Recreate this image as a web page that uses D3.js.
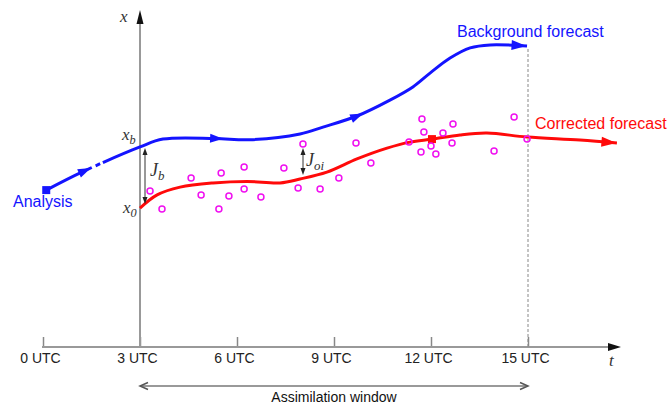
<!DOCTYPE html>
<html>
<head>
<meta charset="utf-8">
<script src="https://cdn.jsdelivr.net/npm/d3@7"></script>
<style>
  body { margin: 0; background: #fff; }
  svg { display: block; }
</style>
</head>
<body>
<div id="chart"></div>
<script>
// tick hours and labels
const tickHours = [0, 3, 6, 9, 12, 15];
const tickLabels = ['0 UTC', '3 UTC', '6 UTC', '9 UTC', '12 UTC', '15 UTC'];

// background forecast (hours, state value)
const blueT = [0.1, 1.2, 3.0, 3.71, 5.32, 6.4, 7.95, 8.66, 9.71, 10.73, 11.44, 11.97, 12.59, 13.21, 13.83, 14.97];
const blueV = [5.23, 5.83, 6.67, 6.93, 6.95, 6.91, 7.1, 7.33, 7.7, 8.23, 8.67, 9.13, 9.63, 9.97, 10.07, 10.03];
const blueArrowT = [1.48, 5.57, 9.9];

// corrected forecast
const redT = [3.0, 3.53, 4.24, 5.26, 6.31, 7.33, 7.95, 8.78, 9.71, 10.64, 11.35, 12.03, 12.9, 13.73, 14.97, 16.61, 17.75];
const redV = [4.63, 5.07, 5.33, 5.47, 5.52, 5.47, 5.6, 5.83, 6.27, 6.63, 6.83, 6.93, 7.07, 7.13, 7.0, 6.9, 6.8];
const redMark = { t: 12.03, v: 6.93 };

// observations
const obsT = [3.31, 3.68, 4.58, 4.89, 5.44, 5.51, 5.75, 6.22, 6.22, 6.74, 7.45, 7.89, 8.04, 8.57, 9.15, 9.68, 10.14,
  11.32, 11.69, 11.72, 11.78, 12.0, 12.15, 12.37, 12.68, 12.65, 13.95, 14.57, 14.97];
const obsV = [5.2, 4.6, 5.63, 5.07, 4.6, 5.8, 5.03, 6.0, 5.27, 5.0, 5.97, 5.3, 6.77, 5.27, 5.63, 6.8, 6.13,
  6.83, 6.5, 7.6, 7.17, 6.7, 6.43, 7.13, 7.43, 6.8, 6.53, 7.67, 6.93];

const width = 667;
const height = 405;

const svg = d3.select('#chart')
  .append('svg')
  .attr('width', width)
  .attr('height', height);

const x = d3.scaleLinear().domain([0, 15]).range([43, 528]);
const y = d3.scaleLinear().domain([0, 10]).range([347, 47]);

const sans = 'Liberation Sans, Arial, sans-serif';
const serif = 'Liberation Serif, Times New Roman, serif';
const blue = '#1414ff';
const red = '#ff0a0a';
const magenta = '#f010f0';

const tri = (len, wid) => `M0,0L${-len},${-wid / 2}L${-len},${wid / 2}Z`;
const vee = (len, wid) => `M${-len},${-wid / 2}L0,0L${-len},${wid / 2}`;

// X axis
const xAxis = d3.axisBottom(x).tickValues(tickHours).tickSize(-10).tickPadding(6)
  .tickFormat((d, i) => tickLabels[i]);
const axisG = svg.append('g').attr('transform', `translate(0, ${y(0)})`).call(xAxis);
axisG.select('.domain').remove();
axisG.selectAll('.tick line').attr('stroke', '#888').attr('stroke-width', 1.5);
axisG.selectAll('.tick text')
  .attr('font-family', sans).attr('font-size', 14).attr('fill', '#222').attr('dx', -3);

svg.append('line')
  .attr('x1', x(0) - 1).attr('x2', 612).attr('y1', y(0)).attr('y2', y(0))
  .attr('stroke', '#999').attr('stroke-width', 2);
svg.append('path').attr('d', tri(13, 8)).attr('transform', `translate(621, ${y(0)})`).attr('fill', '#111');

// Y axis
svg.append('line')
  .attr('x1', x(3)).attr('x2', x(3)).attr('y1', y(0)).attr('y2', 22)
  .attr('stroke', '#999').attr('stroke-width', 2);
svg.append('path').attr('d', tri(14, 7)).attr('transform', `translate(${x(3)}, 10) rotate(-90)`).attr('fill', '#111');

// end of window
svg.append('line')
  .attr('x1', x(15)).attr('x2', x(15)).attr('y1', y(0)).attr('y2', y(10))
  .attr('stroke', '#888').attr('stroke-width', 1).attr('stroke-dasharray', '3,2');

// Assimilation window arrow
const winY = 386;
svg.append('line')
  .attr('x1', x(3) + 1).attr('x2', x(15) - 1).attr('y1', winY).attr('y2', winY)
  .attr('stroke', '#777').attr('stroke-width', 1.5);
svg.append('path').attr('d', vee(8, 7)).attr('transform', `translate(${x(15)}, ${winY})`)
  .attr('fill', 'none').attr('stroke', '#555').attr('stroke-width', 1.5);
svg.append('path').attr('d', vee(8, 7)).attr('transform', `translate(${x(3)}, ${winY}) rotate(180)`)
  .attr('fill', 'none').attr('stroke', '#555').attr('stroke-width', 1.5);
svg.append('text')
  .attr('x', (x(3) + x(15)) / 2).attr('y', 402)
  .attr('text-anchor', 'middle').attr('font-family', sans).attr('font-size', 14).attr('fill', '#111')
  .text('Assimilation window');

// lines
const line = d3.line().x((d) => x(d[0])).y((d) => y(d[1])).curve(d3.curveCatmullRom.alpha(0.5));

function pointAtX(node, px) {
  let lo = 0;
  let hi = node.getTotalLength();
  for (let i = 0; i < 40; i += 1) {
    const mid = (lo + hi) / 2;
    if (node.getPointAtLength(mid).x < px) lo = mid; else hi = mid;
  }
  return lo;
}

function arrowAt(path, px, color, len, wid) {
  const node = path.node();
  const l = pointAtX(node, px);
  const p = node.getPointAtLength(l);
  const q = node.getPointAtLength(Math.max(0, l - 2));
  const ang = (Math.atan2(p.y - q.y, p.x - q.x) * 180) / Math.PI;
  svg.append('path').attr('d', tri(len, wid))
    .attr('transform', `translate(${p.x}, ${p.y}) rotate(${ang})`)
    .attr('fill', color);
}

const bluePath = svg.append('path')
  .datum(blueT.map((t, i) => [t, blueV[i]]))
  .attr('d', line)
  .attr('fill', 'none').attr('stroke', blue).attr('stroke-width', 3);
const bl = pointAtX(bluePath.node(), 92);
bluePath.attr('stroke-dasharray', `${bl} 4 5 3 2000`);
blueArrowT.forEach((t) => arrowAt(bluePath, x(t), blue, 13, 9));
arrowAt(bluePath, x(blueT[blueT.length - 1]) - 0.5, blue, 15, 10);

const redPath = svg.append('path')
  .datum(redT.map((t, i) => [t, redV[i]]))
  .attr('d', line)
  .attr('fill', 'none').attr('stroke', red).attr('stroke-width', 3);
arrowAt(redPath, x(redT[redT.length - 1]) - 0.5, red, 15, 10);

// squares
svg.append('rect')
  .attr('x', x(blueT[0]) - 4).attr('y', y(blueV[0]) - 4).attr('width', 8).attr('height', 8)
  .attr('fill', blue);
svg.append('rect')
  .attr('x', x(redMark.t) - 4).attr('y', y(redMark.v) - 4).attr('width', 8).attr('height', 8)
  .attr('fill', red);

// observations
svg.append('g').selectAll('circle')
  .data(obsT.map((t, i) => [t, obsV[i]]))
  .enter()
  .append('circle')
  .attr('cx', (d) => x(d[0]))
  .attr('cy', (d) => y(d[1]))
  .attr('r', 3)
  .attr('fill', 'none')
  .attr('stroke', magenta)
  .attr('stroke-width', 1.5);

// cost arrows
function doubleArrow(px, y1, y2) {
  svg.append('line').attr('x1', px).attr('x2', px).attr('y1', y1 + 3).attr('y2', y2 - 3)
    .attr('stroke', '#333').attr('stroke-width', 1);
  svg.append('path').attr('d', tri(7, 5)).attr('transform', `translate(${px}, ${y1}) rotate(-90)`).attr('fill', '#222');
  svg.append('path').attr('d', tri(7, 5)).attr('transform', `translate(${px}, ${y2}) rotate(90)`).attr('fill', '#222');
}
doubleArrow(145, 148, 204);
doubleArrow(303, 148, 175);

// labels
svg.append('text').attr('x', 457).attr('y', 37)
  .attr('font-family', sans).attr('font-size', 16).attr('fill', blue)
  .text('Background forecast');
svg.append('text').attr('x', 535).attr('y', 129)
  .attr('font-family', sans).attr('font-size', 16).attr('fill', red)
  .text('Corrected forecast');
svg.append('text').attr('x', 13).attr('y', 207)
  .attr('font-family', sans).attr('font-size', 16).attr('fill', blue)
  .text('Analysis');

function mathLabel(px, py, main, sub, size) {
  const t = svg.append('text').attr('x', px).attr('y', py)
    .attr('font-family', serif).attr('font-style', 'italic').attr('font-size', size).attr('fill', '#333');
  t.append('tspan').text(main);
  if (sub) t.append('tspan').attr('dy', 4).attr('font-size', size * 0.72).text(sub);
}
mathLabel(120, 22, 'x', null, 17);
mathLabel(122, 140, 'x', 'b', 17);
mathLabel(123, 213, 'x', '0', 17);
mathLabel(150, 176, 'J', 'b', 18);
mathLabel(306, 166, 'J', 'oi', 18);
mathLabel(609, 366, 't', null, 17);
</script>
</body>
</html>
